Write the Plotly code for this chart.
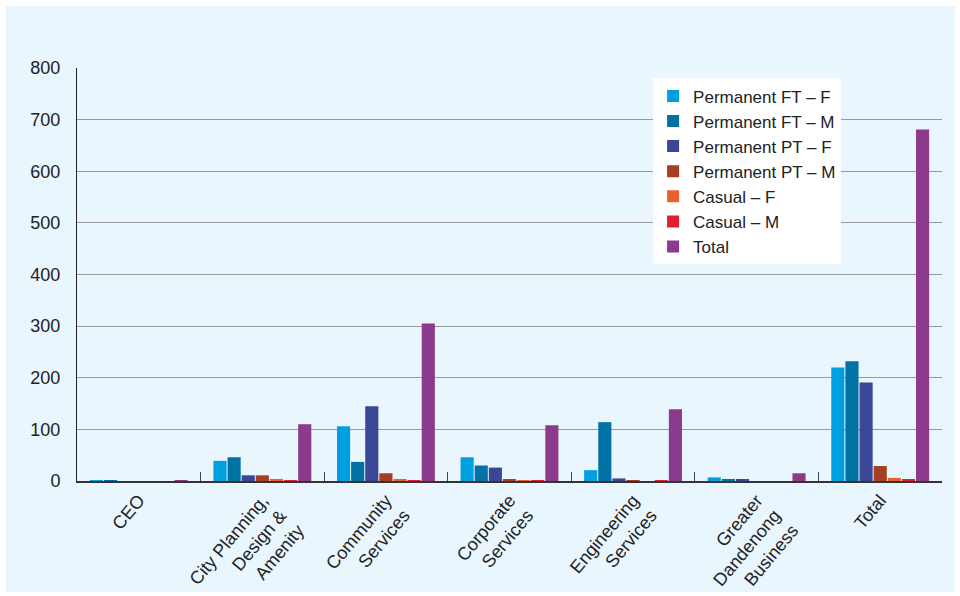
import plotly.graph_objects as go

categories = ["CEO", "City Planning, Design & Amenity", "Community Services",
              "Corporate Services", "Engineering Services",
              "Greater Dandenong Business", "Total"]
tick_labels = ["CEO", "City Planning,<br>Design &<br>Amenity", "Community<br>Services",
               "Corporate<br>Services", "Engineering<br>Services",
               "Greater<br>Dandenong<br>Business", "Total"]

series_names = ["Permanent FT – F", "Permanent FT – M", "Permanent PT – F",
                "Permanent PT – M", "Casual – F", "Casual – M", "Total"]
perm_ft_f = [1, 39, 106, 46, 21, 7, 220]
perm_ft_m = [1, 46, 37, 30, 114, 3, 232]
perm_pt_f = [0, 11, 145, 26, 5, 3, 191]
perm_pt_m = [0, 11, 15, 3, 0.5, 0, 29]
casual_f = [0, 3, 4, 1, 0, 0, 6]
casual_m = [0, 1, 1, 0.5, 1, 0, 2]
total = [1, 110, 305, 108, 139, 15, 681]

y_ticks = [0, 100, 200, 300, 400, 500, 600, 700, 800]

series_values = [perm_ft_f, perm_ft_m, perm_pt_f, perm_pt_m, casual_f, casual_m, total]
colors = ["#00A0E0", "#0072A4", "#3A4796", "#A63E24", "#E8622A", "#E0202E", "#8C3A8C"]

fig = go.Figure()
for name, vals, col in zip(series_names, series_values, colors):
    fig.add_trace(go.Bar(x=categories, y=vals, name=name, marker=dict(color=col, line=dict(width=0))))

font_family = "Liberation Sans, Arial, Helvetica, sans-serif"

fig.update_layout(
    width=960, height=596,
    barmode="group", bargap=0.2, bargroupgap=0.07,
    paper_bgcolor="white", plot_bgcolor="rgba(0,0,0,0)",
    margin=dict(l=77, r=18, t=68, b=115, autoexpand=False),
    font=dict(family=font_family, size=17, color="#222222"),
    showlegend=True,
    legend=dict(x=0.666, y=0.975, xanchor="left", yanchor="top",
                bgcolor="white", borderwidth=0, font=dict(size=17, color="#222222"),
                itemwidth=30, tracegroupgap=0),
    shapes=[dict(type="rect", xref="paper", yref="paper",
                 x0=(6 - 77) / 865, x1=(955 - 77) / 865,
                 y0=(481 - 592) / 413, y1=(481 - 6) / 413,
                 fillcolor="#EAF6FD", line=dict(width=0), layer="below")],
)
fig.update_xaxes(
    type="category", tickmode="array", tickvals=categories, ticktext=tick_labels,
    tickangle=-50, tickson="boundaries", ticks="inside", ticklen=9, tickcolor="#444",
    showline=True, linecolor="#333333", linewidth=1.5, showgrid=False,
    tickfont=dict(size=18, color="#222222"),
)
fig.update_yaxes(
    range=[0, 800], tickmode="array", tickvals=y_ticks, ticktext=[str(v) for v in y_ticks],
    showgrid=True, gridcolor="#9A9A9A", gridwidth=1,
    showline=True, linecolor="#222222", linewidth=1, ticks="",
    ticklabelstandoff=12, zeroline=False,
    tickfont=dict(size=18, color="#222222"),
)

fig.write_html("out.html")
